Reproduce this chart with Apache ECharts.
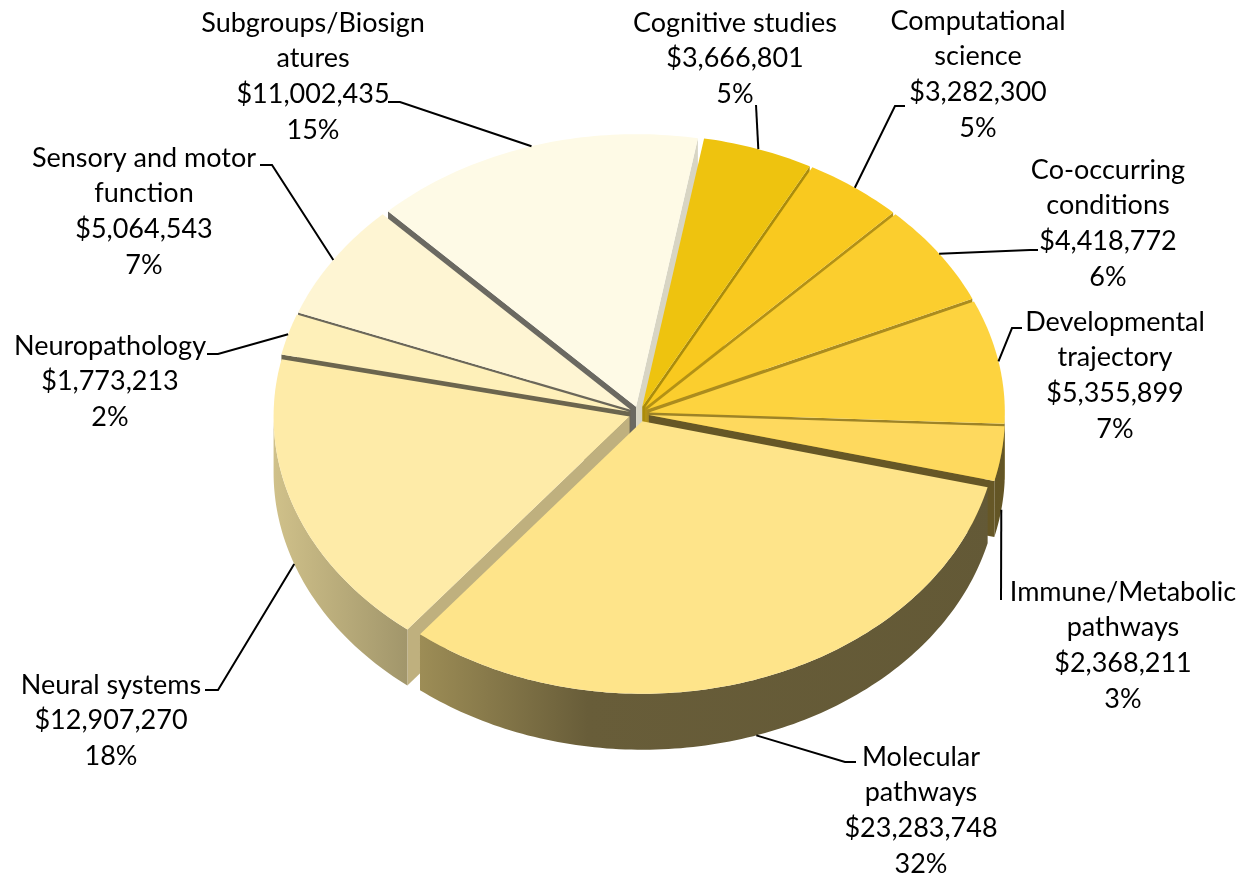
<!DOCTYPE html>
<html>
<head>
<meta charset="utf-8">
<style>
  html, body { margin: 0; padding: 0; background: #fff; }
  #chart { width: 1252px; height: 879px; }
</style>
<script src="https://cdn.jsdelivr.net/npm/echarts@6/dist/echarts.min.js"></script>
</head>
<body>
<div id="chart"></div>
<script>
// data, clockwise from the first slice
const names = ['Cognitive studies', 'Computational\nscience', 'Co-occurring\nconditions', 'Developmental\ntrajectory',
  'Immune/Metabolic\npathways', 'Molecular\npathways', 'Neural systems', 'Neuropathology',
  'Sensory and motor\nfunction', 'Subgroups/Biosign\natures'];
const values = [3666801, 3282300, 4418772, 5355899, 2368211, 23283748, 12907270, 1773213, 5064543, 11002435];
const percents = ['5%', '5%', '6%', '7%', '3%', '32%', '18%', '2%', '7%', '15%'];

// styles
const topColors = ['#eec30f', '#f9c91f', '#fbce2e', '#fdd33f', '#fed95e', '#fee48a', '#feeba8', '#fef0b9', '#fef5d3', '#fefae6'];
// brightness of the cut face that sits at the start angle of each slice
const faceShades = [0.85, 0.72, 0.72, 0.68, 0.62, 0.4, 0.75, 0.42, 0.42, 0.42];

// layout
const cx = 639, cy = 414, rx = 356, ry = 272.5, depth = 56, explode = 10, startAngle = 10;
const labelPos = [[735, 5], [978, 3], [1108, 152], [1115, 304], [1123, 574], [921, 739], [111, 667], [110, 328], [144, 140], [313, 5]];
const leaderPoints = [
  [[756, 105]],
  [[895, 106], [905, 106]],
  [[1030, 250], [1038, 250]],
  [[1012, 328], [1022, 328]],
  [[1001, 600]],
  [[845, 762], [856, 762]],
  [[218, 690], [205, 690]],
  [[218, 354], [207, 354]],
  [[272, 165], [260, 165]],
  [[400, 102], [388, 102]]
];

const total = values.reduce((a, b) => a + b, 0);
const rad = d => d * Math.PI / 180;

const slices = [];
let acc = startAngle;
values.forEach(v => {
  const a0 = acc;
  const a1 = acc + v / total * 360;
  slices.push({ a0, a1, mid: (a0 + a1) / 2 });
  acc = a1;
});

function shade(hex, f) {
  const n = parseInt(hex.slice(1), 16);
  const r = Math.round((n >> 16 & 255) * f);
  const g = Math.round((n >> 8 & 255) * f);
  const b = Math.round((n & 255) * f);
  return 'rgb(' + r + ',' + g + ',' + b + ')';
}

function rimPoint(s, a, dy) {
  const ox = explode * Math.sin(rad(s.mid));
  const oy = -explode * (ry / rx) * Math.cos(rad(s.mid));
  return [cx + ox + rx * Math.sin(rad(a)), cy + oy - ry * Math.cos(rad(a)) + (dy || 0)];
}

function apex(s, dy) {
  const ox = explode * Math.sin(rad(s.mid));
  const oy = -explode * (ry / rx) * Math.cos(rad(s.mid));
  return [cx + ox, cy + oy + (dy || 0)];
}

function arcPoints(s, a0, a1, dy) {
  const pts = [];
  const n = Math.max(2, Math.ceil((a1 - a0) / 1));
  for (let i = 0; i <= n; i++) pts.push(rimPoint(s, a0 + (a1 - a0) * i / n, dy));
  return pts;
}

function wallFill(color) {
  return new echarts.graphic.LinearGradient(273, 0, 1005, 0, [
    { offset: 0, color: shade(color, 0.82) },
    { offset: 0.2, color: shade(color, 0.62) },
    { offset: 0.43, color: shade(color, 0.41) },
    { offset: 1, color: shade(color, 0.39) }
  ], true);
}

function renderSlice(params, api) {
  const i = params.dataIndex;
  const s = slices[i];
  const color = topColors[i];
  const rank = slices.map(x => -Math.cos(rad(x.mid))).sort((a, b) => a - b).indexOf(-Math.cos(rad(s.mid)));
  const z2 = rank * 2;
  const children = [];
  const face = (a, f) => children.push({
    type: 'polygon',
    z2,
    shape: { points: [apex(s), rimPoint(s, a), rimPoint(s, a, depth), apex(s, depth)] },
    style: { fill: shade(color, f) }
  });

  // cut faces, only those turned to the viewer
  if (Math.sin(rad(s.a0)) < 0) face(s.a0, faceShades[i]);
  if (Math.sin(rad(s.a1)) > 0) face(s.a1, faceShades[(i + 1) % values.length]);

  // outer wall, front half of the rim only
  const from = Math.max(s.a0, 90);
  const to = Math.min(s.a1, 270);
  if (to > from) {
    const upper = arcPoints(s, from, to, 0);
    const lower = arcPoints(s, from, to, depth).reverse();
    children.push({
      type: 'polygon',
      z2,
      shape: { points: upper.concat(lower) },
      style: { fill: wallFill(color) }
    });
  }

  children.push({
    type: 'polygon',
    z2: z2 + 1,
    shape: { points: [apex(s)].concat(arcPoints(s, s.a0, s.a1, 0)) },
    style: { fill: color }
  });
  return { type: 'group', children };
}

function renderLabel(params, api) {
  const i = params.dataIndex;
  const s = slices[i];
  const front = Math.cos(rad(s.mid)) < 0;
  const anchor = rimPoint(s, s.mid, front ? depth : 0);
  const value = '$' + api.value(0).toLocaleString('en-US');
  return {
    type: 'group',
    children: [
      {
        type: 'polyline',
        shape: { points: [anchor].concat(leaderPoints[i]) },
        style: { fill: null, stroke: '#000', lineWidth: 2 }
      },
      {
        type: 'text',
        style: {
          x: labelPos[i][0],
          y: labelPos[i][1],
          text: names[i] + '\n' + value + '\n' + percents[i],
          fill: '#000',
          font: '27px Lato',
          align: 'center',
          verticalAlign: 'top',
          lineHeight: 35.7
        }
      }
    ]
  };
}

const chart = echarts.init(document.getElementById('chart'));
chart.setOption({
  animation: false,
  backgroundColor: '#fff',
  series: [
    { type: 'custom', coordinateSystem: 'none', z: 1, renderItem: renderSlice, data: values.map(v => [v]) },
    { type: 'custom', coordinateSystem: 'none', z: 2, silent: true, renderItem: renderLabel, data: values.map(v => [v]) }
  ]
});
</script>
</body>
</html>
